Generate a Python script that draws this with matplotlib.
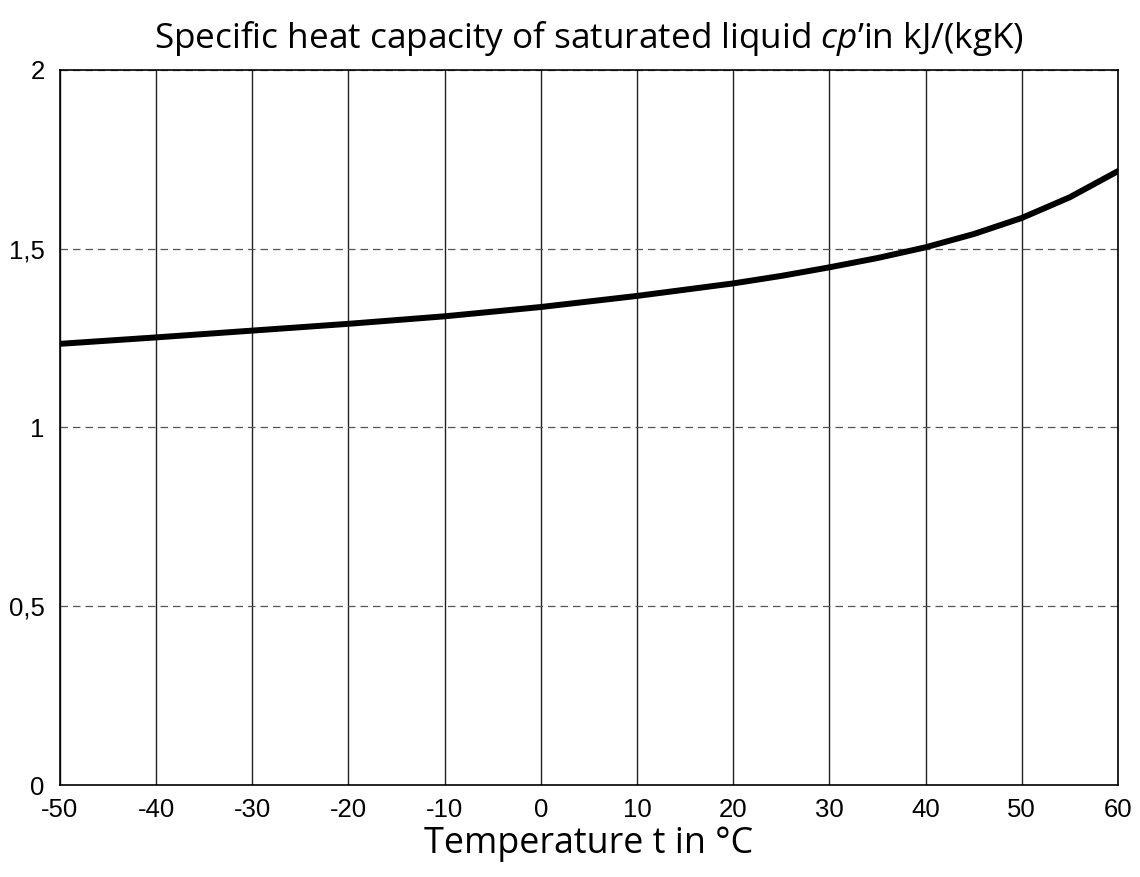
import matplotlib.pyplot as plt

# saturated liquid specific heat capacity
temps = [-50, -40, -30, -20, -10, 0, 10, 20, 25, 30, 35, 40, 45, 50, 55, 60]
cp_liquid = [1.234, 1.252, 1.271, 1.290, 1.311, 1.337, 1.368, 1.403, 1.424, 1.448,
             1.474, 1.504, 1.541, 1.586, 1.644, 1.717]

x_ticks = list(range(-50, 61, 10))
x_labels = [str(t) for t in x_ticks]  # plain hyphen as in the original
y_ticks = [0, 0.5, 1, 1.5, 2]
y_labels = ['0', '0,5', '1', '1,5', '2']

plt.rcParams['mathtext.fontset'] = 'custom'
plt.rcParams['mathtext.rm'] = 'Open Sans'
plt.rcParams['mathtext.it'] = 'Open Sans:italic'

fig = plt.figure(figsize=(11.4, 8.77), dpi=100)
ax = fig.add_axes([0.0526, 0.1049, 0.928, 0.8153])

ax.plot(temps, cp_liquid, color='black', linewidth=4.3, solid_capstyle='round')

ax.set_xlim(-50, 60)
ax.set_ylim(0, 2)
ax.set_xticks(x_ticks)
ax.set_xticklabels(x_labels)
ax.set_yticks(y_ticks)
ax.set_yticklabels(y_labels)
ax.tick_params(axis='x', length=0, labelsize=18.5, pad=9)
ax.tick_params(axis='y', length=0, labelsize=18.5, pad=11)
for lab in ax.get_xticklabels() + ax.get_yticklabels():
    lab.set_fontfamily('Liberation Sans')

# grid: solid verticals, dashed horizontals
ax.xaxis.grid(True, color='#222222', linewidth=1.0, linestyle='-')
ax.yaxis.grid(True, color='#555555', linewidth=0.9, linestyle=(0, (6, 4)))
for s in ax.spines.values():
    s.set_linewidth(1.2)

ax.set_title(r"Specific heat capacity of saturated liquid $\mathit{cp’}$in kJ/(kgK)",
             fontsize=25.3, family='Open Sans', pad=16)
ax.set_xlabel('Temperature t in °C', fontsize=25.8, family='Open Sans', labelpad=3)

fig.savefig('out.png', dpi=100)
